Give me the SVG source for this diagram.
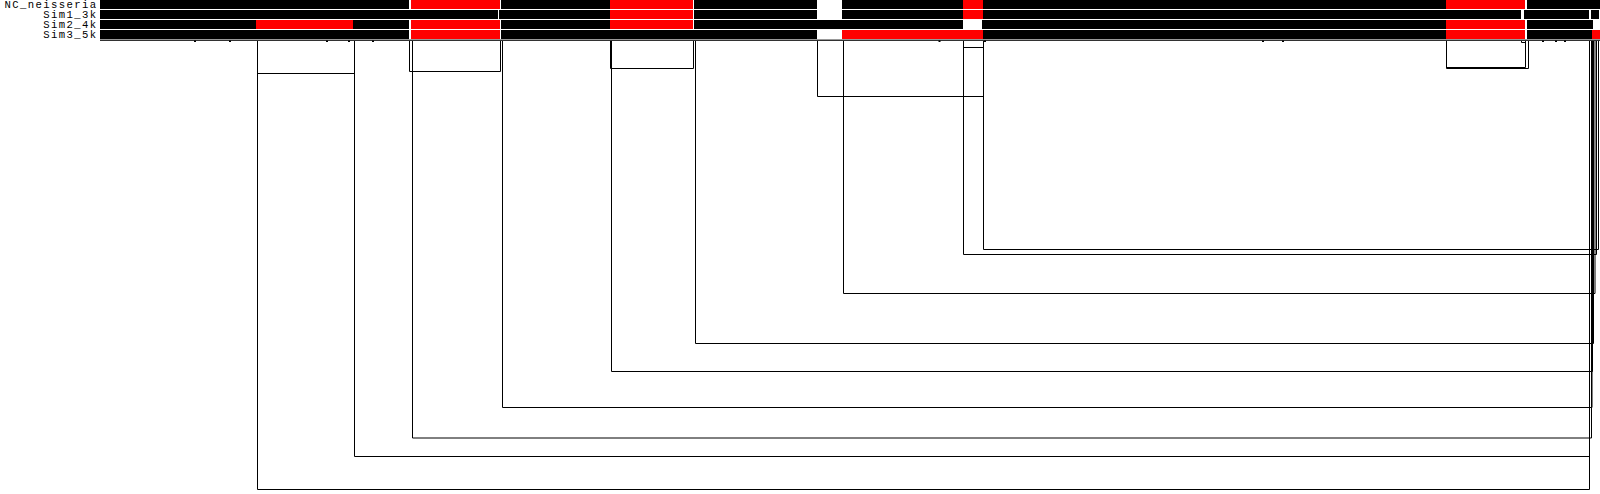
<svg xmlns="http://www.w3.org/2000/svg" width="1600" height="494" viewBox="0 0 1600 494">
<style>
.k{fill:#000}
.r{fill:#ff0000}
.lbl{font-family:"Liberation Mono","DejaVu Sans Mono",monospace;font-size:10.6px;letter-spacing:1.4px;fill:#000;text-anchor:end}
.c{fill:none;stroke:#000;stroke-width:1}
.t{fill:#000}
</style>
<rect width="1600" height="494" fill="#fff"/>
<g id="labels">
<text class="lbl" x="97.6" y="8.4">NC_neisseria</text>
<text class="lbl" x="97.6" y="18.4">Sim1_3k</text>
<text class="lbl" x="97.6" y="28.4">Sim2_4k</text>
<text class="lbl" x="97.6" y="38.4">Sim3_5k</text>
</g>
<g id="track-NC_neisseria">
<rect class="k" x="100" y="0" width="309" height="9"/>
<rect class="r" x="411" y="0" width="89" height="9"/>
<rect class="k" x="501" y="0" width="109" height="9"/>
<rect class="r" x="610" y="0" width="83" height="9"/>
<rect class="k" x="694" y="0" width="123" height="9"/>
<rect class="k" x="842" y="0" width="121" height="9"/>
<rect class="r" x="963" y="0" width="20" height="9"/>
<rect class="k" x="983" y="0" width="463" height="9"/>
<rect class="r" x="1446" y="0" width="79" height="9"/>
<rect class="k" x="1527" y="0" width="73" height="9"/>
</g>
<g id="track-Sim1_3k">
<rect class="k" x="100" y="10" width="398" height="9"/>
<rect class="k" x="499" y="10" width="111" height="9"/>
<rect class="r" x="610" y="10" width="83" height="9"/>
<rect class="k" x="694" y="10" width="123" height="9"/>
<rect class="k" x="842" y="10" width="121" height="9"/>
<rect class="r" x="963" y="10" width="20" height="9"/>
<rect class="k" x="983" y="10" width="538" height="9"/>
<rect class="k" x="1524" y="10" width="65" height="9"/>
<rect class="k" x="1591" y="10" width="8" height="9"/>
</g>
<g id="track-Sim2_4k">
<rect class="k" x="100" y="20" width="156" height="9"/>
<rect class="r" x="256" y="20" width="97" height="9"/>
<rect class="k" x="353" y="20" width="56" height="9"/>
<rect class="r" x="411" y="20" width="89" height="9"/>
<rect class="k" x="501" y="20" width="109" height="9"/>
<rect class="r" x="610" y="20" width="83" height="9"/>
<rect class="k" x="694" y="20" width="269" height="9"/>
<rect class="k" x="982" y="20" width="464" height="9"/>
<rect class="r" x="1446" y="20" width="79" height="9"/>
<rect class="k" x="1527" y="20" width="66" height="9"/>
</g>
<g id="track-Sim3_5k">
<rect class="k" x="100" y="30" width="309" height="9"/>
<rect class="r" x="411" y="30" width="89" height="9"/>
<rect class="k" x="501" y="30" width="316" height="9"/>
<rect class="r" x="842" y="30" width="141" height="9"/>
<rect class="k" x="983" y="30" width="463" height="9"/>
<rect class="r" x="1446" y="30" width="79" height="9"/>
<rect class="k" x="1527" y="30" width="65" height="9"/>
<rect class="r" x="1592" y="30" width="8" height="9"/>
</g>
<g id="axis">
<rect class="k" x="100" y="39.6" width="1500" height="1.2"/>
<rect class="t" x="194" y="40.5" width="2" height="1.5"/>
<rect class="t" x="229" y="40.5" width="2" height="1.5"/>
<rect class="t" x="326" y="40.5" width="2" height="1.5"/>
<rect class="t" x="348" y="40.5" width="2" height="1.5"/>
<rect class="t" x="372" y="40.5" width="2" height="1.5"/>
<rect class="t" x="938.5" y="40.5" width="2" height="1.5"/>
<rect class="t" x="984" y="40.5" width="2" height="1.5"/>
<rect class="t" x="1262" y="40.5" width="2" height="1.5"/>
<rect class="t" x="1282" y="40.5" width="2" height="1.5"/>
<rect class="t" x="1542" y="40.5" width="2" height="1.5"/>
<rect class="t" x="1555" y="40.5" width="2" height="1.5"/>
<rect class="t" x="1564" y="40.5" width="2" height="1.5"/>
</g>
<g id="connectors">
<path class="c" d="M257.5 41V73.5H354.5V41"/>
<path class="c" d="M409.5 41V71.5H500.5V41"/>
<path class="c" d="M610.5 41V68.5H693.5V41"/>
<path class="c" d="M817.5 41V96.5H983.5V41"/>
<path class="c" d="M963.5 41V47.5H983.5V41"/>
<path class="c" d="M1446.5 41V67.5H1525.5V41"/>
<path class="c" d="M1446.5 41V68.5H1528.5V41"/>
<path class="c" d="M1521.5 41V42.5H1525.5"/>
<path class="c" d="M983.5 41V249.5H1598.5V41"/>
<path class="c" d="M963.5 41V254.5H1596.5V41"/>
<path class="c" d="M843.5 41V293.5H1595V41"/>
<path class="c" d="M695.5 41V343.5H1593.5V41"/>
<path class="c" d="M611.5 41V371.5H1592.5V41"/>
<path class="c" d="M502.5 41V407.5H1592V41"/>
<path class="c" d="M412.5 41V438H1591.5V41" stroke-width="2"/>
<path class="c" d="M354.5 41V456.5H1589.5V41"/>
<path class="c" d="M257.5 41V489.5H1589.5V41"/>
</g>
</svg>
